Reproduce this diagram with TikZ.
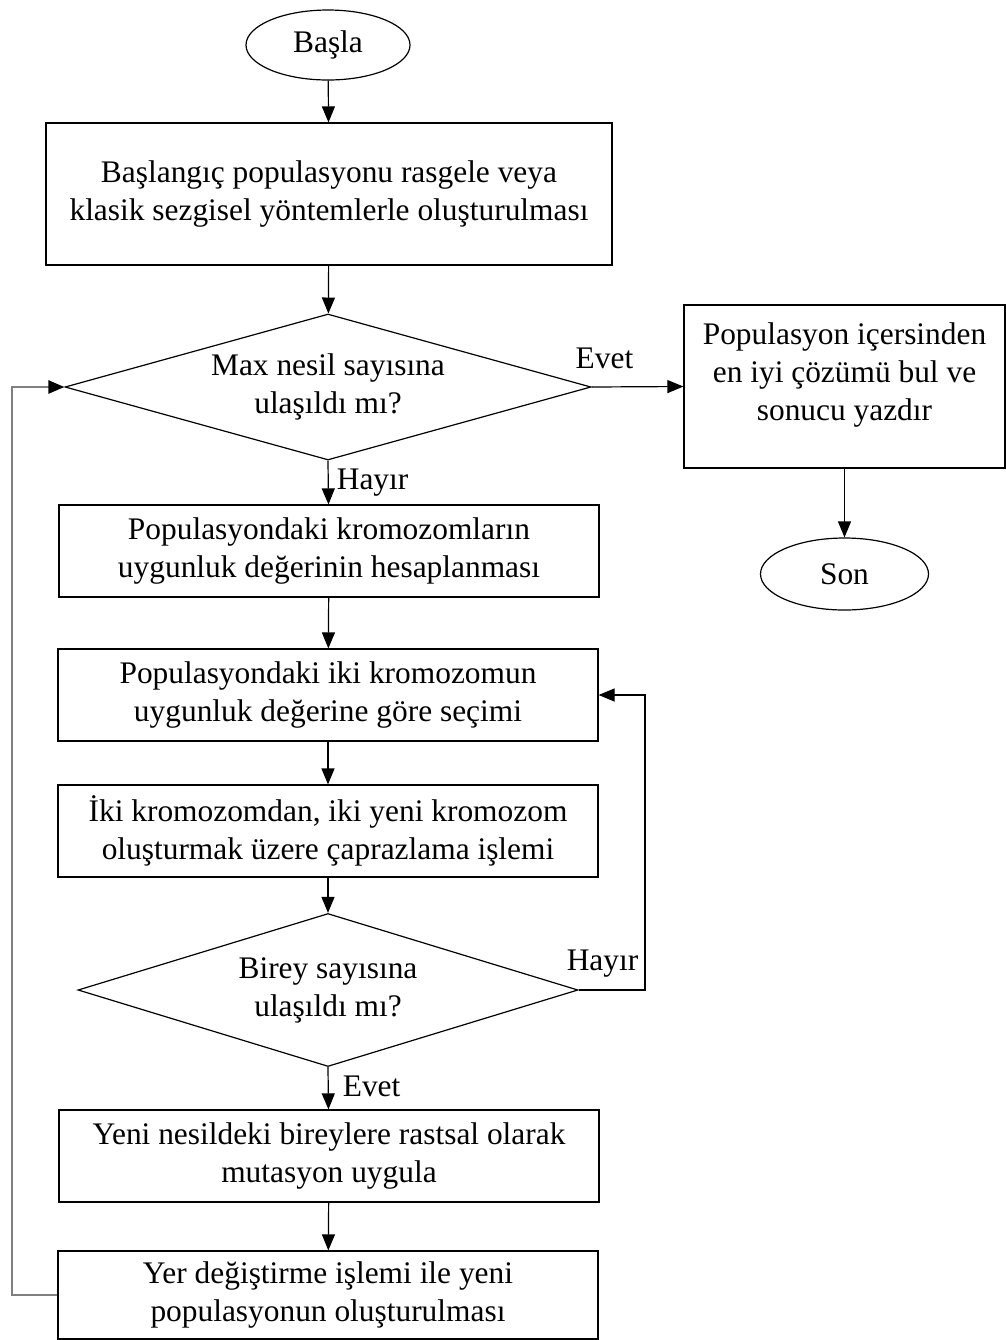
\documentclass[tikz,border=0pt]{standalone}
\usepackage{fontspec}
\setmainfont{Liberation Serif}
\usetikzlibrary{positioning,arrows.meta,shapes.geometric}

\begin{document}
\begin{tikzpicture}[x=0.5pt,y=-0.5pt,font=\fontsize{15.7}{19}\selectfont,
  box/.style={draw,line width=0.6pt,align=center,minimum width=270pt,minimum height=46pt,inner sep=2pt},
  term/.style={draw,ellipse,line width=0.6pt,inner sep=0pt},
  cond/.style={draw,diamond,line width=0.6pt,align=center,inner sep=0pt},
  arr/.style={-{Triangle[length=8pt,width=6.5pt]},line width=0.6pt},
  back/.style={-{Triangle[length=8pt,width=6.5pt,color=black]},draw=black!50,line width=1.3pt},
  lbl/.style={inner sep=2pt}]
  \useasboundingbox (0,0) rectangle (1006,1340);
  % main column
  \node[term,minimum width=82pt,minimum height=35pt] (start) at (328,45) {Başla};
  \node[box,minimum width=283pt,minimum height=71pt] (init) at (329,194)
    {Başlangıç populasyonu rasgele veya\\klasik sezgisel yöntemlerle oluşturulması};
  \node[cond,aspect=3.6,minimum width=263pt,minimum height=73pt] (maxgen) at (328,387)
    {Max nesil sayısına\\ulaşıldı mı?};
  \node[box] (fitness) at (329,551) {Populasyondaki kromozomların\\uygunluk değerinin hesaplanması};
  \node[box] (select) at (328,695) {Populasyondaki iki kromozomun\\uygunluk değerine göre seçimi};
  \node[box] (cross) at (328,831) {İki kromozomdan, iki yeni kromozom\\oluşturmak üzere çaprazlama işlemi};
  \node[cond,aspect=3.27,minimum width=250pt,minimum height=76.5pt] (popsize) at (328,990)
    {Birey sayısına\\ulaşıldı mı?};
  \node[box] (mutate) at (329,1156) {Yeni nesildeki bireylere rastsal olarak\\mutasyon uygula};
  \node[box,minimum height=44pt] (replace) at (328,1295) {Yer değiştirme işlemi ile yeni\\populasyonun oluşturulması};
  % right column
  \node[box,minimum width=160.5pt,minimum height=81.5pt,text depth=15pt] (best) at (844.5,386.5)
    {Populasyon içersinden\\en iyi çözümü bul ve\\sonucu yazdır};
  \node[term,minimum width=84pt,minimum height=36pt] (stop) at (844.5,574) {Son};
  % loop corners
  \coordinate (selback) at (645,695);
  \coordinate (genback) at (12,387);

  \draw[arr] (start) -- (init);
  \draw[arr] (init) -- (maxgen);
  \draw[arr] (maxgen.east) -- node[lbl,pos=0.14,above=7pt] {Evet} (best.west);
  \draw[arr] (best.south) -- (stop);
  \draw[arr] (maxgen.south) -- node[lbl,midway,right=2pt] {Hayır} (fitness);
  \draw[arr] (fitness) -- (select);
  \draw[arr] (select) -- (cross);
  \draw[arr] (cross) -- (popsize.north);
  \draw[arr] (popsize.east) -| node[lbl,pos=0.18,above=4pt] {Hayır} (selback) -- (select.east);
  \draw[arr] (popsize.south) -- node[lbl,midway,right=5pt,yshift=1pt] {Evet} (mutate);
  \draw[arr] (mutate) -- (replace);
  \draw[back] (replace.west) -| (genback) -- (maxgen.west);
\end{tikzpicture}
\end{document}
